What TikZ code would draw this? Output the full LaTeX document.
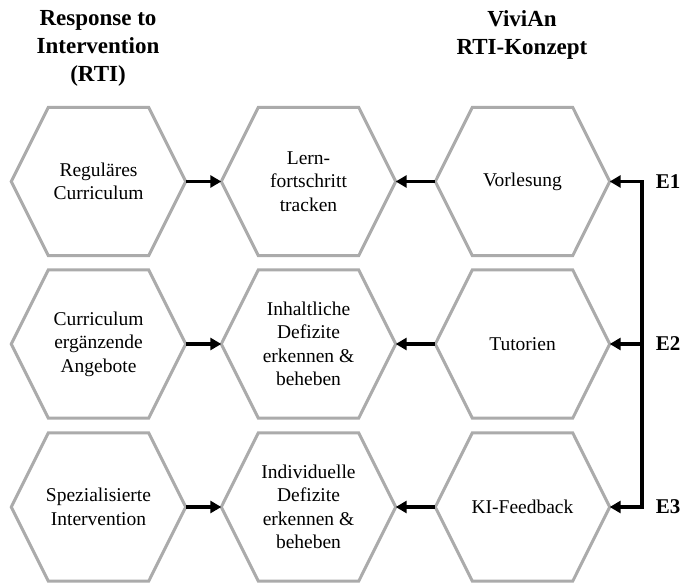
\documentclass[tikz,border=0pt]{standalone}
\usepackage{fontspec}
\setmainfont{Liberation Serif}
\usetikzlibrary{arrows.meta}

\tikzset{
	hexbox/.style={minimum width=174pt, minimum height=148pt, inner sep=0pt, align=center,
		font=\fontsize{19.5}{23.5}\selectfont},
	hexline/.style={draw=black!33, line width=3pt, line join=miter},
	flow/.style={line width=3.5pt, -{Triangle[length=11pt,width=12pt]}},
	headline/.style={align=center, inner sep=0pt, anchor=north, font=\fontsize{23}{28}\selectfont\bfseries},
	elabel/.style={inner sep=0pt, font=\fontsize{21}{25}\selectfont\bfseries}
}

\begin{document}
\begin{tikzpicture}[x=1pt, y=-1pt]
	\useasboundingbox (0,0) rectangle (682,583);

	\node[headline] (titleleft) at (98,10) {Response to\\Intervention\\(RTI)};
	\node[headline] (titleright) at (522,10) {ViviAn\\RTI-Konzept};

	% first row
	\node[hexbox] (regular) at (98.5,181.5) {Reguläres\\Curriculum};
	\node[hexbox] (lern) at (308.5,181.5) {Lern-\\fortschritt\\tracken};
	\node[hexbox] (vorl) at (522.5,181.5) {Vorlesung};

	% second row
	\node[hexbox] (ergaenz) at (98.5,344) {Curriculum\\ergänzende\\Angebote};
	\node[hexbox] (inhalt) at (308.5,344) {Inhaltliche\\Defizite\\erkennen \&\\beheben};
	\node[hexbox] (tut) at (522.5,344) {Tutorien};

	% third row
	\node[hexbox] (spez) at (98.5,507) {Spezialisierte\\Intervention};
	\node[hexbox] (indiv) at (308.5,507) {Individuelle\\Defizite\\erkennen \&\\beheben};
	\node[hexbox] (kifb) at (522.5,507) {KI-Feedback};

	\foreach \n in {regular,lern,vorl,ergaenz,inhalt,tut,spez,indiv,kifb}
		\draw[hexline] (\n.west) -- ([xshift=37pt]\n.north west) -- ([xshift=-37pt]\n.north east)
			-- (\n.east) -- ([xshift=-37pt]\n.south east) -- ([xshift=37pt]\n.south west) -- cycle;

	\draw[flow] (regular.east) -- (lern.west);
	\draw[flow] (ergaenz.east) -- (inhalt.west);
	\draw[flow] (spez.east) -- (indiv.west);

	\draw[flow] (vorl.west) -- (lern.east);
	\draw[flow] (tut.west) -- (inhalt.east);
	\draw[flow] (kifb.west) -- (indiv.east);

	% feedback bracket
	\coordinate (e1c) at (642,181.5);
	\coordinate (e2c) at (642,344);
	\coordinate (e3c) at (642,507);
	\draw[flow] (e2c) -- (e1c) -- (vorl.east);
	\draw[flow] (e2c) -- (e3c) -- (kifb.east);
	\draw[flow] (e2c) -- (tut.east);

	\node[elabel] (e1) at (668,181.5) {E1};
	\node[elabel] (e2) at (668,344) {E2};
	\node[elabel] (e3) at (668,507) {E3};
\end{tikzpicture}
\end{document}
